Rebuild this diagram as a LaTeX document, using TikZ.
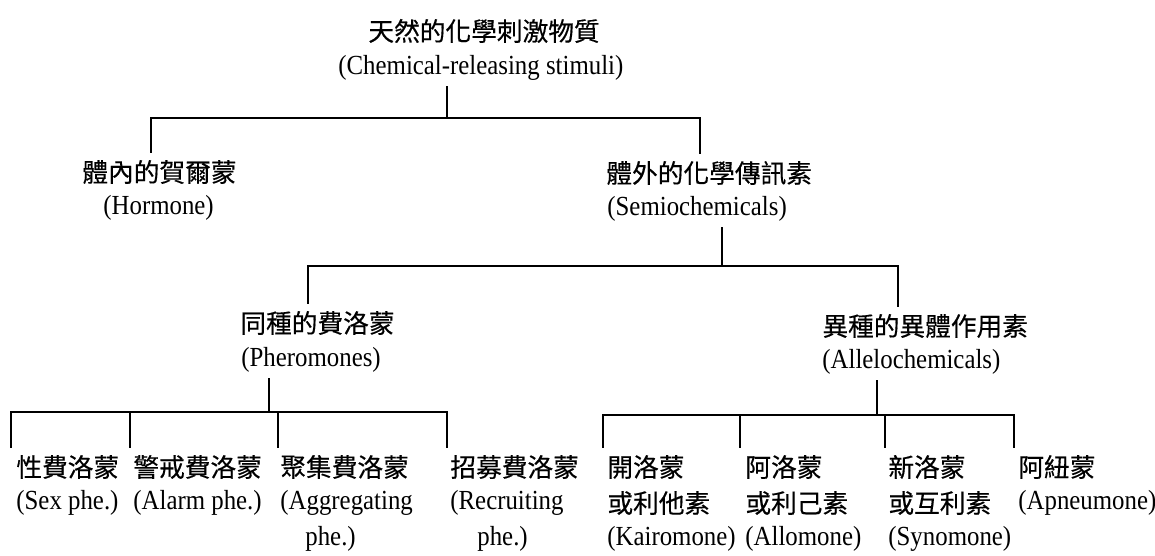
\documentclass[tikz,border=0pt]{standalone}
\usepackage{fontspec}
\setmainfont{Liberation Serif}[FakeStretch=0.9]
\newfontfamily\cjk{Noto Sans CJK TC}[FakeBold=0.4]
\tikzset{
  zh/.style={font=\cjk\fontsize{12.85}{15}\selectfont, anchor=west, inner xsep=0pt, inner ysep=4pt},
  en/.style={font=\fontsize{13.8}{15}\selectfont, anchor=west, inner xsep=0pt, inner ysep=3pt},
  link/.style={line width=0.9pt, line cap=rect}
}
\begin{document}
\begin{tikzpicture}[x=0.5pt, y=-0.5pt]
\fill[white] (0,0) rectangle (1155,556);
\useasboundingbox (0,0) rectangle (1155,556);

% texts
\node[zh] (title) at (368,31) {天然的化學刺激物質};
\node[en] (title-en) at (338,68) {(Chemical-releasing stimuli)};

\node[zh] (hormone) at (82,172) {體內的賀爾蒙};
\node[en] (hormone-en) at (103,208) {(Hormone)};
\node[zh] (semio) at (606,173) {體外的化學傳訊素};
\node[en] (semio-en) at (607,209) {(Semiochemicals)};

\node[zh] (pher) at (240,323) {同種的費洛蒙};
\node[en] (pher-en) at (241,360) {(Pheromones)};
\node[zh] (allelo) at (822,326) {異種的異體作用素};
\node[en] (allelo-en) at (822,362) {(Allelochemicals)};

\node[zh] (sex) at (16,467) {性費洛蒙};
\node[en] (sex-en) at (16,503) {(Sex phe.)};
\node[zh] (alarm) at (133,467) {警戒費洛蒙};
\node[en] (alarm-en) at (133,503) {(Alarm phe.)};
\node[zh] (aggr) at (280,467) {聚集費洛蒙};
\node[en] (aggr-en) at (280,503) {(Aggregating};
\node[en] (aggr-en2) at (305,538.5) {phe.)};
\node[zh] (recr) at (450,467) {招募費洛蒙};
\node[en] (recr-en) at (450,503) {(Recruiting};
\node[en] (recr-en2) at (477,538.5) {phe.)};

\node[zh] (kairo) at (607,467) {開洛蒙};
\node[zh] (kairo-zh2) at (607,503) {或利他素};
\node[en] (kairo-en) at (607,538.5) {(Kairomone)};
\node[zh] (allo) at (745,467) {阿洛蒙};
\node[zh] (allo-zh2) at (745,503) {或利己素};
\node[en] (allo-en) at (745,538.5) {(Allomone)};
\node[zh] (syno) at (888,467) {新洛蒙};
\node[zh] (syno-zh2) at (888,503) {或互利素};
\node[en] (syno-en) at (888,538.5) {(Synomone)};
\node[zh] (apneu) at (1018,467) {阿紐蒙};
\node[en] (apneu-en) at (1018,503) {(Apneumone)};

% junction coordinates
\coordinate (b0) at (447,118);
\coordinate (hx) at (151,118);
\coordinate (sx) at (700,118);

\coordinate (b1) at (722,266);
\coordinate (px) at (308,266);
\coordinate (ax) at (898,266);

\coordinate (b2) at (269,412);
\coordinate (l1) at (11,412);
\coordinate (l2) at (130,412);
\coordinate (l3) at (278,412);
\coordinate (l4) at (447,412);

\coordinate (b3) at (877,415);
\coordinate (r1) at (603,415);
\coordinate (r2) at (740,415);
\coordinate (r3) at (885,415);
\coordinate (r4) at (1014,415);

% connectors
\draw[link] (title-en.south -| b0) -- (b0);
\draw[link] (hormone.north -| hx) -- (hx) -- (sx) -- (semio.north -| sx);

\draw[link] (semio-en.south -| b1) -- (b1);
\draw[link] (pher.north -| px) -- (px) -- (ax) -- (allelo.north -| ax);

\draw[link] (pher-en.south -| b2) -- (b2);
\draw[link] (sex.north -| l1) -- (l1) -- (l4) -- (recr.north -| l4);
\draw[link] (l2) -- (alarm.north -| l2);
\draw[link] (l3) -- (aggr.north -| l3);

\draw[link] (allelo-en.south -| b3) -- (b3);
\draw[link] (kairo.north -| r1) -- (r1) -- (r4) -- (apneu.north -| r4);
\draw[link] (r2) -- (allo.north -| r2);
\draw[link] (r3) -- (syno.north -| r3);
\end{tikzpicture}
\end{document}
